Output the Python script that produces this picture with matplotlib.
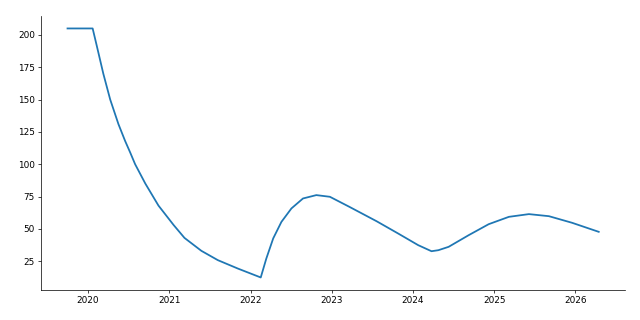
import matplotlib
matplotlib.use("Agg")
import matplotlib.pyplot as plt
import pandas as pd

# values
dates = [
    "2019-10-01", "2020-01-22", "2020-02-09", "2020-03-10", "2020-04-10",
    "2020-05-17", "2020-06-16", "2020-07-09", "2020-07-31", "2020-09-15",
    "2020-11-13", "2021-01-20", "2021-03-10", "2021-05-25", "2021-08-07",
    "2021-11-05", "2022-02-16", "2022-03-13", "2022-04-13", "2022-05-20",
    "2022-07-04", "2022-08-25", "2022-10-24", "2022-12-24", "2023-03-22",
    "2023-07-22", "2023-10-27", "2024-01-25", "2024-03-25", "2024-04-25",
    "2024-06-10", "2024-09-08", "2024-12-07", "2025-03-08", "2025-06-06",
    "2025-09-04", "2025-12-17", "2026-04-16",
]
values = [
    205, 205, 192, 170, 150,
    131, 118, 109, 100, 85,
    68, 53, 43, 33, 25.8,
    19.3, 12.4, 27, 42.6, 55.4,
    65.8, 73.5, 76.1, 74.8, 67,
    55.9, 46.4, 37.4, 32.7, 33.5,
    36.1, 45.1, 53.6, 59.3, 61.4,
    59.8, 54.7, 47.7,
]

x = pd.to_datetime(dates)

fig = plt.figure(figsize=(10, 5), dpi=64)
ax = fig.add_axes([0.064, 0.094, 0.913, 0.856])
ax.plot(x, values, color="C0", lw=2)
ax.spines["top"].set_visible(False)
ax.spines["right"].set_visible(False)
fig.savefig("out.png", dpi=64)
